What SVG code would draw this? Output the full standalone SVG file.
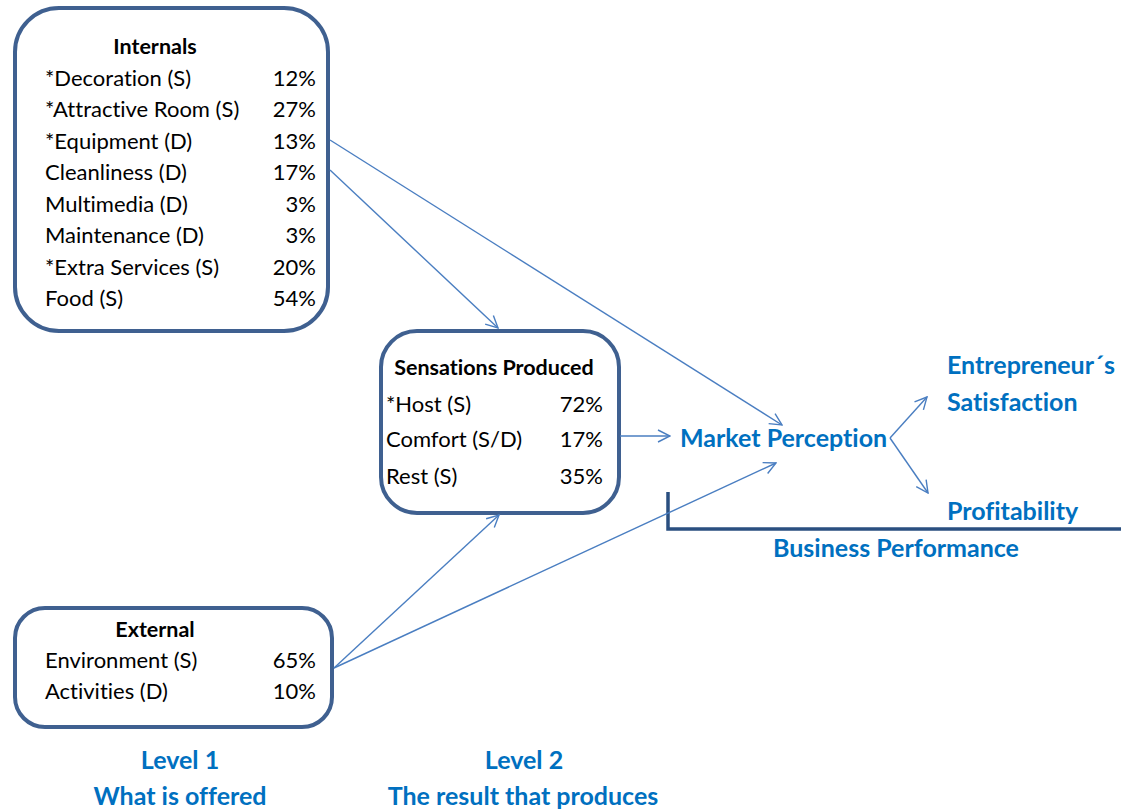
<svg xmlns="http://www.w3.org/2000/svg" width="1121" height="810" viewBox="0 0 1121 810">
<style>
text{font-variant-ligatures:none;font-feature-settings:"liga" 0,"dlig" 0}
.box{fill:#fff;stroke:#3F6090;stroke-width:4}
.t{font-family:Lato,"Open Sans","Liberation Sans",sans-serif;font-size:22px;fill:#000}
.h{font-family:Lato,"Open Sans","Liberation Sans",sans-serif;font-size:21.5px;font-weight:bold;fill:#000}
.r{text-anchor:end}
.b{font-family:Lato,"Open Sans","Liberation Sans",sans-serif;font-size:25px;font-weight:bold;fill:#0070C0}
.c{text-anchor:middle}
.conn{stroke:#4A7EC1;stroke-width:1.4;fill:none}
</style>
<defs>
<marker id="ah" markerUnits="userSpaceOnUse" markerWidth="14" markerHeight="14" viewBox="0 0 14 14" refX="13" refY="7" orient="auto">
<path d="M1,1 L13,7 L1,13" fill="none" stroke="#4A7EC1" stroke-width="1.4"/>
</marker>
</defs>
<rect width="1121" height="810" fill="#fff"/>
<g id="internals">
<rect class="box" x="15" y="8" width="313" height="323" rx="44"/>
<text class="h c" x="155" y="54">Internals</text>
<text class="t" x="45" y="86">*Decoration (S)</text><text class="t r" x="316" y="86">12%</text>
<text class="t" x="45" y="117">*Attractive Room (S)</text><text class="t r" x="316" y="117">27%</text>
<text class="t" x="45" y="149">*Equipment (D)</text><text class="t r" x="316" y="149">13%</text>
<text class="t" x="45" y="180">Cleanliness (D)</text><text class="t r" x="316" y="180">17%</text>
<text class="t" x="45" y="212">Multimedia (D)</text><text class="t r" x="316" y="212">3%</text>
<text class="t" x="45" y="243">Maintenance (D)</text><text class="t r" x="316" y="243">3%</text>
<text class="t" x="45" y="275">*Extra Services (S)</text><text class="t r" x="316" y="275">20%</text>
<text class="t" x="45" y="306">Food (S)</text><text class="t r" x="316" y="306">54%</text>
</g>
<g id="sensations">
<rect class="box" x="381" y="331" width="238" height="182" rx="36"/>
<text class="h c" x="494" y="375">Sensations Produced</text>
<text class="t" x="386" y="412">*Host (S)</text><text class="t r" x="603" y="412">72%</text>
<text class="t" x="386" y="447">Comfort (S/D)</text><text class="t r" x="603" y="447">17%</text>
<text class="t" x="386" y="484">Rest (S)</text><text class="t r" x="603" y="484">35%</text>
</g>
<g id="external">
<rect class="box" x="15" y="608" width="317" height="119" rx="30"/>
<text class="h c" x="155" y="637">External</text>
<text class="t" x="45" y="668">Environment (S)</text><text class="t r" x="316" y="668">65%</text>
<text class="t" x="45" y="699">Activities (D)</text><text class="t r" x="316" y="699">10%</text>
</g>
<g id="market-perception">
<text class="b" x="680" y="447">Market Perception</text>
</g>
<g id="entrepreneur-satisfaction">
<text class="b" x="947" y="374">Entrepreneur´s</text>
<text class="b" x="947" y="411">Satisfaction</text>
</g>
<g id="profitability">
<text class="b" x="947" y="520">Profitability</text>
</g>
<g id="business-performance">
<path d="M668,492 V529 H1121" fill="none" stroke="#2A4F80" stroke-width="3.5"/>
<text class="b c" x="896" y="557">Business Performance</text>
</g>
<g id="level1">
<text class="b c" x="180" y="769">Level 1</text>
<text class="b c" x="180" y="805">What is offered</text>
</g>
<g id="level2">
<text class="b c" x="524" y="769">Level 2</text>
<text class="b c" x="523" y="805">The result that produces</text>
</g>
<g id="connectors">
<line class="conn" x1="330" y1="140" x2="782" y2="425" marker-end="url(#ah)"/>
<line class="conn" x1="330" y1="170" x2="498" y2="328" marker-end="url(#ah)"/>
<line class="conn" x1="620" y1="436" x2="670" y2="436" marker-end="url(#ah)"/>
<line class="conn" x1="334" y1="668" x2="499" y2="515" marker-end="url(#ah)"/>
<line class="conn" x1="334" y1="668" x2="776" y2="463" marker-end="url(#ah)"/>
<line class="conn" x1="890" y1="438" x2="927" y2="397" marker-end="url(#ah)"/>
<line class="conn" x1="890" y1="438" x2="928" y2="493" marker-end="url(#ah)"/>
</g>
</svg>
